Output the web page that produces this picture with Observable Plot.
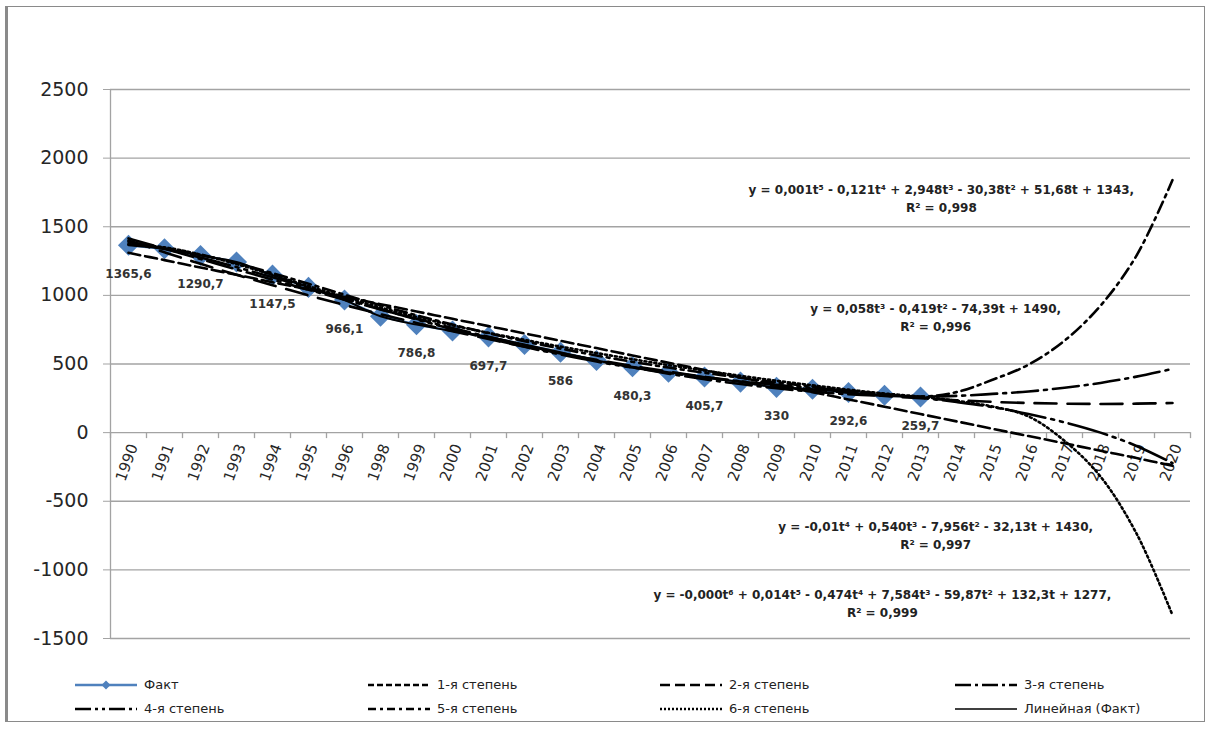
<!DOCTYPE html>
<html><head><meta charset="utf-8">
<script src="https://cdn.jsdelivr.net/npm/d3@7"></script>
<script src="https://cdn.jsdelivr.net/npm/@observablehq/plot@0.6"></script>
<style>
html,body{margin:0;padding:0;background:#fff;}
#wrap{position:relative;width:1213px;height:731px;overflow:hidden;font-family:"DejaVu Sans",sans-serif;background:#fff;}
#chart{position:absolute;left:0;top:0;}
#frame{position:absolute;left:5px;top:6px;width:1200px;height:716px;border:1px solid #8a8a8a;border-left:3px solid #8a8a8a;box-sizing:border-box;pointer-events:none;}
.lg{position:absolute;display:flex;align-items:center;font-size:13px;color:#222;white-space:nowrap;line-height:14px;}
.lg svg{margin-right:7px;display:block;}
</style></head><body>
<div id="wrap"><div id="chart"></div><div id="legend"></div><div id="frame"></div></div>
<script>
// Categories (note: 1997 absent in the source)
const years = ["1990","1991","1992","1993","1994","1995","1996","1998","1999","2000","2001","2002","2003","2004","2005","2006","2007","2008","2009","2010","2011","2012","2013","2014","2015","2016","2017","2018","2019","2020"];
// Факт
const fact = [1365.6, 1340, 1290.7, 1243, 1147.5, 1058, 966.1, 848, 786.8, 740, 697.7, 642, 586, 525, 480.3, 440, 405.7, 368, 330, 316, 292.6, 272, 259.7];
// Trend series (1990–2020)
const deg1 = [1310, 1257, 1203, 1150, 1096, 1043, 990, 936, 883, 829, 776, 723, 669, 616, 562, 509, 456, 402, 349, 295, 242, 189, 135, 82, 28, -25, -78, -132, -185, -242];
const deg2 = [1400, 1314, 1230, 1150, 1074, 1000, 930, 863, 799, 739, 682, 628, 577, 530, 486, 445, 407, 373, 342, 314, 290, 268, 250, 236, 224, 216, 211, 209, 211, 216];
const deg3 = [1415, 1340, 1265, 1189, 1115, 1041, 969, 898, 829, 762, 698, 637, 580, 526, 476, 430, 389, 354, 323, 299, 280, 268, 263, 268, 282, 300, 327, 362, 408, 465];
const deg4 = [1390, 1338, 1276, 1206, 1132, 1055, 977, 899, 825, 753, 686, 625, 569, 518, 474, 436, 402, 374, 348, 325, 303, 280, 254, 223, 186, 135, 75, 0, -97, -222];
const deg5 = [1372, 1345, 1297, 1235, 1162, 1085, 1005, 928, 855, 787, 724, 666, 612, 562, 516, 474, 436, 400, 366, 335, 306, 280, 262, 295, 385, 495, 670, 925, 1290, 1840];
const deg6 = [1372, 1350, 1297, 1228, 1150, 1068, 988, 912, 843, 782, 727, 676, 627, 580, 535, 492, 452, 414, 378, 345, 313, 285, 262, 232, 190, 118, -60, -320, -735, -1330];
// Y tick labels
const yTicks = [-1500, -1000, -500, 0, 500, 1000, 1500, 2000, 2500];
// Legend names
const seriesNames = ["Факт", "1-я степень", "2-я степень", "3-я степень", "4-я степень", "5-я степень", "6-я степень", "Линейная (Факт)"];
// Equation annotations
const equations = [
  "y = 0,001t⁵ - 0,121t⁴ + 2,948t³ - 30,38t² + 51,68t + 1343,\nR² = 0,998",
  "y = 0,058t³ - 0,419t² - 74,39t + 1490,\nR² = 0,996",
  "y = -0,01t⁴ + 0,540t³ - 7,956t² - 32,13t + 1430,\nR² = 0,997",
  "y = -0,000t⁶ + 0,014t⁵ - 0,474t⁴ + 7,584t³ - 59,87t² + 132,3t + 1277,\nR² = 0,999"
];
const equationAt = [[23.58, 1716], [23.42, 849], [23.42, -743], [21.94, -1235]];

const tIdx = (d, i) => i + 1;
const xDomain = [0.5, years.length + 0.5];
const boundaries = d3.range(xDomain[0], xDomain[1] + 0.01, 1);
const gray = "#a3a3a3";

const trends = [
  {values: deg1, dash: "12,5", legendDash: "6,3"},
  {values: deg2, dash: "22,11", legendDash: "10,5"},
  {values: deg3, dash: "26,6,3,6", legendDash: "16,4,3,4"},
  {values: deg4, dash: "40,6,3,6,3,6", legendDash: "16,4,3,4,3,4"},
  {values: deg5, dash: "12,5,3,5", legendDash: "8,4,3,4"},
  {values: deg6, dash: "2,3", legendDash: "2,2"}
];

const plot = Plot.plot({
  width: 1213,
  height: 665,
  marginTop: 89,
  marginBottom: 27,
  marginLeft: 110,
  marginRight: 23,
  x: {type: "linear", domain: xDomain, axis: null},
  y: {domain: [yTicks[0], yTicks[yTicks.length - 1]], axis: null},
  style: {fontFamily: "DejaVu Sans", background: "transparent", color: "#262626"},
  marks: [
    Plot.gridY(yTicks, {stroke: gray, strokeOpacity: 1, strokeWidth: 1.3}),
    Plot.ruleX([xDomain[0]], {stroke: gray, strokeWidth: 1.3}),
    Plot.ruleX(boundaries, {y1: () => 0, y2: () => 0, insetBottom: -6, stroke: gray, strokeWidth: 1.3}),
    Plot.axisY(yTicks, {tickSize: 7, tickPadding: 15, tickFormat: d => String(d), fontSize: 19, stroke: gray, fill: "#262626"}),
    Plot.text(years, {x: tIdx, y: () => 0, text: d => d, rotate: -70, textAnchor: "end", lineAnchor: "middle", dx: 5, dy: 12, fontSize: 15, fill: "#262626"}),
    Plot.line(fact, {x: tIdx, y: d => d, stroke: "#4F81BD", strokeWidth: 2.5}),
    Plot.dot(fact, {x: tIdx, y: d => d, symbol: "diamond2", r: 9.5, fill: "#4F81BD", stroke: "none"}),
    ...trends.map(s => Plot.line(s.values, {x: tIdx, y: d => d, stroke: "#000", strokeWidth: 2.6, strokeDasharray: s.dash, curve: "catmull-rom"})),
    Plot.line(fact, {x: tIdx, y: d => d, stroke: "#000", strokeWidth: 2, curve: "catmull-rom"}),
    Plot.text(fact, {x: tIdx, y: d => d, filter: (d, i) => i % 2 === 0, text: d => String(d).replace(".", ","), dy: 29, fontSize: 12, fontWeight: "bold", fill: "#333"}),
    Plot.text(equations, {x: (d, i) => equationAt[i][0], y: (d, i) => equationAt[i][1], text: d => d, fontSize: 12, fontWeight: "bold", lineHeight: 1.5, fill: "#222"})
  ]
});
document.getElementById("chart").appendChild(plot);

// Legend
const legendCols = [75, 368, 660, 955];
const legendRows = [685, 709];
const legendEl = document.getElementById("legend");
seriesNames.forEach((name, k) => {
  const col = k % 4, row = Math.floor(k / 4);
  const item = document.createElement("div");
  item.className = "lg";
  item.style.left = legendCols[col] + "px";
  item.style.top = (legendRows[row] - 7) + "px";
  let sw;
  if (k === 0) {
    sw = `<svg width="62" height="14"><line x1="0" y1="7" x2="62" y2="7" stroke="#4F81BD" stroke-width="2.5"/><path d="M31,2.5L35.5,7L31,11.5L26.5,7Z" fill="#4F81BD"/></svg>`;
  } else if (k === 7) {
    sw = `<svg width="62" height="14"><line x1="0" y1="7" x2="62" y2="7" stroke="#000" stroke-width="1.5"/></svg>`;
  } else {
    sw = `<svg width="62" height="14"><line x1="0" y1="7" x2="62" y2="7" stroke="#000" stroke-width="2.5" stroke-dasharray="${trends[k - 1].legendDash}"/></svg>`;
  }
  item.innerHTML = sw + `<span>${name}</span>`;
  legendEl.appendChild(item);
});
</script>
</body></html>
